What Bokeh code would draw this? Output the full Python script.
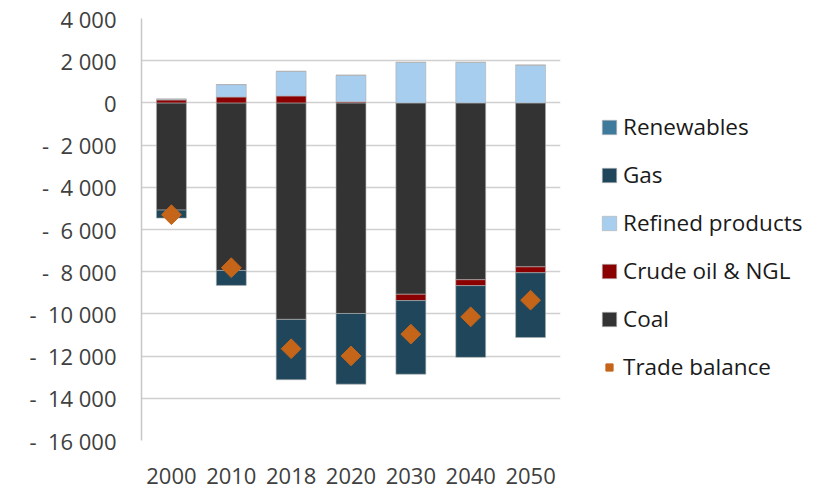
import numpy as np
from bokeh.plotting import figure
from bokeh.models import (FactorRange, Range1d, Legend, LegendItem, CustomJSTickFormatter,
                          ColumnDataSource, FixedTicker)
from bokeh.embed import file_html
from bokeh.resources import INLINE

years = ["2000", "2010", "2018", "2020", "2030", "2040", "2050"]
renewables = [0, 0, 0, 0, 0, 0, 0]
gas = [-380, -710, -2860, -3350, -3490, -3400, -3070]
refined = [40, 590, 1165, 1260, 1920, 1920, 1790]
crude = [140, 280, 330, 50, -300, -280, -280]
coal = [-5080, -7940, -10260, -9980, -9070, -8380, -7770]
trade = [-5300, -7810, -11650, -11990, -10960, -10140, -9350]
y_ticks = [4000, 2000, 0, -2000, -4000, -6000, -8000, -10000, -12000, -14000, -16000]

colors = {
    "Renewables": "#3E7A9C",
    "Gas": "#1F465B",
    "Refined products": "#A7CDEF",
    "Crude oil & NGL": "#8B0000",
    "Coal": "#333333",
}
trade_color = "#C5651A"

FONT = "Open Sans"

p = figure(x_range=FactorRange(*years, range_padding=0), y_range=Range1d(-16000, 4000),
           frame_width=419, frame_height=422, output_backend="svg", toolbar_location=None,
           min_border_left=141, min_border_top=18, min_border_bottom=48, min_border_right=0)
p.outline_line_color = None
p.background_fill_color = "white"

# stacking order (closest to zero first)
series = [("Coal", coal), ("Crude oil & NGL", crude), ("Refined products", refined),
          ("Gas", gas), ("Renewables", renewables)]
pos = np.zeros(len(years))
neg = np.zeros(len(years))
renderers = {}
for name, vals in series:
    v = np.array(vals, dtype=float)
    bottom = np.where(v >= 0, pos, neg)
    top = bottom + v
    pos = np.where(v >= 0, top, pos)
    neg = np.where(v < 0, top, neg)
    src = ColumnDataSource(dict(x=years, top=top, bottom=bottom))
    r = p.vbar(x="x", top="top", bottom="bottom", width=0.5, source=src,
               fill_color=colors[name], line_color="#b0b0b0", line_alpha=0.6, line_width=1)
    renderers[name] = r

tsrc = ColumnDataSource(dict(x=years, y=trade))
tr = p.scatter(x="x", y="y", source=tsrc, marker="square", size=14, angle=np.pi / 4,
               fill_color=trade_color, line_color=trade_color)

# axes
p.yaxis.ticker = FixedTicker(ticks=y_ticks)
p.yaxis.formatter = CustomJSTickFormatter(code="""
const a = Math.abs(tick);
const s = a.toFixed(0).replace(/\\B(?=(\\d{3})+(?!\\d))/g, " ");
return tick < 0 ? "-\\u00a0\\u00a0" + s : s;
""")
p.yaxis.major_tick_line_color = None
p.yaxis.minor_tick_line_color = None
p.yaxis.axis_line_color = "#c8c8c8"
p.yaxis.axis_line_width = 1.5
p.yaxis.major_label_standoff = 19
p.yaxis.major_label_text_font = FONT
p.yaxis.major_label_text_font_size = "22px"
p.yaxis.major_label_text_color = "#404040"

p.xaxis.axis_line_color = None
p.xaxis.major_tick_line_color = None
p.xaxis.minor_tick_line_color = None
p.xaxis.major_label_standoff = 21
p.xaxis.major_label_text_font = FONT
p.xaxis.major_label_text_font_size = "22px"
p.xaxis.major_label_text_color = "#404040"

p.xgrid.grid_line_color = None
p.ygrid.grid_line_color = "#d0d0d0"
p.ygrid.grid_line_width = 1.5

legend_order = ["Renewables", "Gas", "Refined products", "Crude oil & NGL", "Coal"]
items = [LegendItem(label=n, renderers=[renderers[n]]) for n in legend_order]
items.append(LegendItem(label="Trade balance", renderers=[tr]))
legend = Legend(items=items, location=(40, 58), border_line_color=None,
                background_fill_alpha=0, margin=0, padding=10,
                glyph_width=18, glyph_height=18, spacing=17,
                label_standoff=5, label_text_font=FONT, label_text_font_size="22.5px",
                label_text_color="#1a1a1a")
p.add_layout(legend, "right")

open("out.html", "w").write(file_html(p, INLINE))
